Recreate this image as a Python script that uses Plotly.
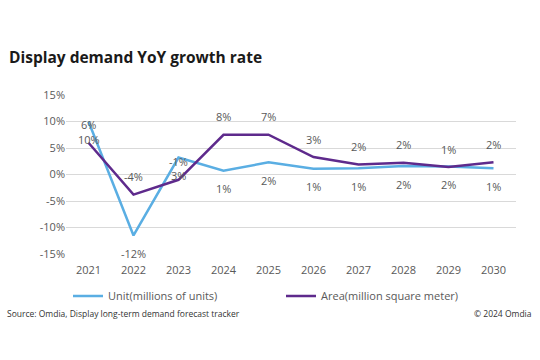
import plotly.graph_objects as go

years = ["2021", "2022", "2023", "2024", "2025", "2026", "2027", "2028", "2029", "2030"]
unit_values = [10.0, -11.5, 3.2, 0.7, 2.3, 1.1, 1.2, 1.6, 1.5, 1.2]
area_values = [6.0, -3.8, -1.0, 7.5, 7.5, 3.3, 1.9, 2.2, 1.4, 2.3]
unit_labels = ["10%", "-12%", "3%", "1%", "2%", "1%", "1%", "2%", "2%", "1%"]
area_labels = ["6%", "-4%", "-1%", "8%", "7%", "3%", "2%", "2%", "1%", "2%"]
y_ticks = [-15, -10, -5, 0, 5, 10, 15]
y_tick_labels = ["-15%", "-10%", "-5%", "0%", "5%", "10%", "15%"]

W, H = 540, 360
ml, mr, mt, mb = 66, 24, 95, 106
LABEL_COLOR = "#595959"

fig = go.Figure()
fig.add_trace(go.Scatter(
    x=years, y=unit_values, mode="lines", name="Unit(millions of units)",
    line=dict(color="#5AAEE3", width=2.5),
))
fig.add_trace(go.Scatter(
    x=years, y=area_values, mode="lines", name="Area(million square meter)",
    line=dict(color="#5E2A8C", width=2.5),
))

# category axis: annotations are positioned by category index
for i, (y, t) in enumerate(zip(unit_values, unit_labels)):
    fig.add_annotation(x=i, y=y, text=t, showarrow=False, yshift=-18,
                       font=dict(family="Open Sans", size=11, color=LABEL_COLOR))
for i, (y, t) in enumerate(zip(area_values, area_labels)):
    fig.add_annotation(x=i, y=y, text=t, showarrow=False, yshift=18,
                       font=dict(family="Open Sans", size=11, color=LABEL_COLOR))

fig.update_layout(
    width=W, height=H,
    margin=dict(l=ml, r=mr, t=mt, b=mb, autoexpand=False),
    paper_bgcolor="white", plot_bgcolor="white",
    font=dict(family="Open Sans", size=11, color=LABEL_COLOR),
    xaxis=dict(type="category", range=[-0.5, 9.5], showgrid=False, showline=False,
               ticks="", ticklabelstandoff=8, tickfont=dict(size=11, color=LABEL_COLOR)),
    yaxis=dict(range=[-15, 15], tickvals=y_ticks, ticktext=y_tick_labels,
               showgrid=True, gridcolor="#D9D9D9", gridwidth=1, zeroline=True,
               zerolinecolor="#D9D9D9", zerolinewidth=1, showline=False, ticks="",
               tickfont=dict(size=11, color=LABEL_COLOR)),
    legend=dict(orientation="h", xref="container", yref="container",
                x=68 / W, xanchor="left", y=1 - 296 / H, yanchor="middle",
                entrywidth=168, entrywidthmode="pixels", itemwidth=30,
                font=dict(family="Open Sans", size=11, color=LABEL_COLOR),
                bgcolor="rgba(0,0,0,0)"),
    showlegend=True,
)

fig.add_annotation(text="<b>Display demand YoY growth rate</b>", xref="paper", yref="paper",
                   x=-(ml - 7) / (W - ml - mr), y=1 + (mt - 57) / (H - mt - mb),
                   xanchor="left", yanchor="middle", showarrow=False,
                   font=dict(family="Open Sans", size=15.5, color="#1a1a1a"))
fig.add_annotation(text="Source: Omdia, Display long-term demand forecast tracker", xref="paper", yref="paper",
                   x=-(ml - 5) / (W - ml - mr), y=-(313 - (H - mb)) / (H - mt - mb),
                   xanchor="left", yanchor="middle", showarrow=False,
                   font=dict(family="Open Sans", size=8.5, color="#333333"))
fig.add_annotation(text="© 2024 Omdia", xref="paper", yref="paper",
                   x=1 + (mr - 6) / (W - ml - mr), y=-(313 - (H - mb)) / (H - mt - mb),
                   xanchor="right", yanchor="middle", showarrow=False,
                   font=dict(family="Open Sans", size=8.5, color="#333333"))

fig.write_html("out.html", config={"displayModeBar": False},
               post_script="document.body.style.margin='0';")
